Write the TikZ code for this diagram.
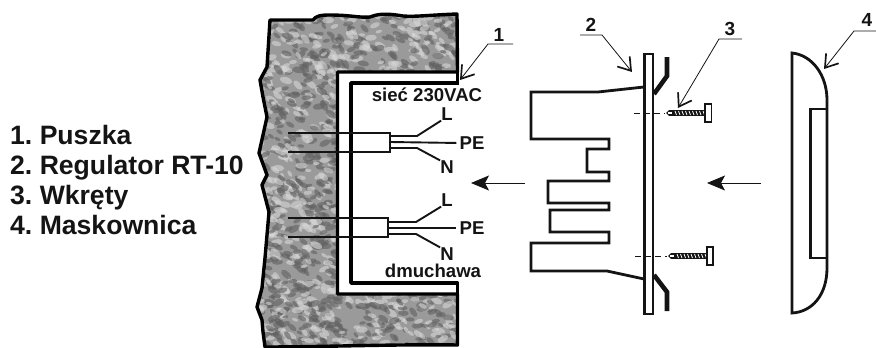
\documentclass[tikz,border=0pt]{standalone}
\usepackage{fontspec}
\setmainfont{Liberation Sans}
\usepackage{xcolor}
\definecolor{inkDark}{HTML}{141414}
\definecolor{wallBase}{HTML}{9A9A9A}
\definecolor{wallDark}{HTML}{606060}
\definecolor{wallLight}{HTML}{D6D6D6}
\usetikzlibrary{arrows.meta,calc}
\tikzset{
  wallLine/.style={
    line width=3.4pt,
    draw=black,
    line join=round
 },
  partLine/.style={
    line width=2.8pt,
    draw=inkDark,
    line join=miter
 },
  flangeLine/.style={
    line width=4.6pt,
    draw=inkDark
 },
  cableLine/.style={
    line width=1.9pt,
    draw=inkDark
 },
  leaderLine/.style={
    {Straight Barb[length=12pt,width=16pt,line width=1.7pt]}-,
    line width=0.8pt,
    draw=inkDark
 },
  moveArrow/.style={
    -{Stealth[length=18pt,width=15pt,inset=4pt]},
    line width=0.8pt,
    draw=inkDark
 },
  legendText/.style={
    font=\fontsize{26.6}{29.7}\selectfont\bfseries\frenchspacing,
    text=inkDark,
    align=left,
    anchor=west,
    inner sep=0pt
 },
  wireText/.style={
    font=\fontsize{18.6}{20}\selectfont\bfseries,
    text=inkDark,
    inner sep=0pt
 },
  numText/.style={
    font=\fontsize{19}{20}\selectfont\bfseries,
    text=inkDark,
    inner sep=0pt
 }
}
\newcommand{\wallPath}{(270,20) -- (313,20) .. controls (316,16) and (320,15) .. (330,15) .. controls (350,15) and (360,18) .. (370,17) .. controls (378,14) and (385,13) .. (403,16) .. controls (415,17) and (430,15) .. (457,14) -- (457.5,72) -- (337.5,72) -- (337.5,294) -- (457.5,294) -- (457.5,345) .. controls (400,344) and (320,347) .. (265,347) -- (263,332) -- (262,320) -- (257,307) -- (262,288) -- (265,258) -- (269,212) -- (262,185) -- (267,175) -- (259,153) -- (267,117) -- (263,97) -- (260,80) -- (267,67) -- cycle}
\newcommand{\drawScrew}[3]{
  \fill[inkDark] (#1,#2-2.8) -- (#3,#2-2.8) -- (#3,#2+2.8) -- (#1,#2+2.8) -- (#1-3,#2) -- cycle;
  \foreach \t in {6,9.5,...,36} {
    \draw[white,line width=0.8pt] ($(#1,#2-2)+(\t,0)$) -- ($(#1,#2+2)+(\t+1.5,0)$);
  }
  \fill[white] (#1-1.5,#2-1.2) rectangle (#1+3,#2+1.2);
}
\begin{document}
\begin{tikzpicture}[x=1pt,y=-1pt]
  \useasboundingbox (0,0) rectangle (876,348);

  \begin{scope}
    \clip \wallPath;
    \fill[wallBase] (250,0) rectangle (470,348);
    \pgfmathsetseed{4711}
    \foreach \i in {1,...,1900} {
      \pgfmathsetmacro{\px}{255+rnd*210}
      \pgfmathsetmacro{\py}{10+rnd*340}
      \pgfmathsetmacro{\ang}{-60+rnd*90}
      \pgfmathsetmacro{\rad}{3+rnd*3.5}
      \pgfmathtruncatemacro{\pick}{ifthenelse(rnd<0.55,0,1)}
      \ifnum\pick=0\def\blob{wallDark}\else\def\blob{wallLight}\fi
      \fill[\blob,opacity=0.6,rotate around={\ang:(\px,\py)}] (\px,\py) ellipse ({\rad pt} and {0.5*\rad pt});
    }
  \end{scope}
  \fill[white] (337.5,72) rectangle (480,294);
  \draw[wallLine] \wallPath;

  \draw[wallLine] (459,83) -- (351,83) -- (351,283) -- (457.5,283) -- (457.5,294);
  \draw[wallLine] (457.5,72) -- (457.5,83);

  \coordinate (cableTopA) at (288,133);
  \coordinate (cableTopB) at (390,133);
  \coordinate (cableTopC) at (390,152);
  \coordinate (cableTopD) at (288,152);
  \draw[cableLine] (cableTopA) -- (cableTopB) -- (cableTopC) -- (cableTopD);
  \node[wireText] (lineTop) at (447,114) {L};
  \node[wireText] (earthTop) at (472,143) {PE};
  \node[wireText] (neutralTop) at (447,167) {N};
  \draw[cableLine] (390,136) -- (417,136) -- (lineTop.south west);
  \draw[cableLine,shorten >=3pt] (390,142) -- (earthTop.west);
  \draw[cableLine] (390,148) -- (417,148) -- (neutralTop.north west);
  \node[wireText] (mainsLabel) at (427,95) {sieć 230VAC};

  \coordinate (cableLowA) at (288,218);
  \coordinate (cableLowB) at (388,218);
  \coordinate (cableLowC) at (388,237);
  \coordinate (cableLowD) at (288,237);
  \draw[cableLine] (cableLowA) -- (cableLowB) -- (cableLowC) -- (cableLowD);
  \node[wireText] (lineLow) at (447,200) {L};
  \node[wireText] (earthLow) at (472,228) {PE};
  \node[wireText] (neutralLow) at (447,254) {N};
  \draw[cableLine] (389,222) -- (416,222) -- (lineLow.south west);
  \draw[cableLine,shorten >=3pt] (389,228) -- (earthLow.west);
  \draw[cableLine] (389,234) -- (416,234) -- (neutralLow.north west);
  \node[wireText] (fanLabel) at (433,271) {dmuchawa};

  \draw[partLine] (644,87) -- (598,92) -- (531,92) -- (531,139) -- (609,139) -- (609,149) -- (587,149) -- (587,172) -- (609,172) -- (609,181) -- (548,181) -- (548,203) -- (609,203) -- (609,210) -- (550,210) -- (550,232) -- (609,232) -- (609,243) -- (531,243) -- (531,271) -- (607,271) -- (644,279);
  \draw[partLine] (644.5,54) rectangle (653,314);
  \draw[flangeLine] (667,57) -- (667,76) -- (654,94);
  \draw[flangeLine] (654,275) -- (667,292) -- (667,311);

  \draw[line width=0.8pt,draw=inkDark,dash pattern=on 6pt off 4pt] (634,113) -- (665,113);
  \draw[line width=0.8pt,draw=inkDark,dash pattern=on 6pt off 4pt] (635,256) -- (667,256);
  \drawScrew{669}{113}{705}
  \drawScrew{671}{256}{707}
  \draw[line width=1.2pt,draw=inkDark,fill=white] (705,104) rectangle (711.5,122);
  \draw[line width=1.2pt,draw=inkDark,fill=white] (707,247) rectangle (713,265);

  \draw[partLine] (792,53) .. controls (812,55) and (827,75) .. (827,100) -- (827,268) .. controls (827,295) and (812,312) .. (792,313) -- cycle;
  \draw[partLine] (827,109) -- (810.5,109) -- (810.5,258) -- (827,258);

  \coordinate (moveLeftA) at (525,183);
  \coordinate (moveLeftB) at (471,183);
  \coordinate (moveRightA) at (761,183);
  \coordinate (moveRightB) at (707,183);
  \draw[moveArrow] (moveLeftA) -- (moveLeftB);
  \draw[moveArrow] (moveRightA) -- (moveRightB);

  \node[numText] (numBox) at (499,35) {1};
  \node[numText] (numRegulator) at (591,25) {2};
  \node[numText] (numScrew) at (730,29) {3};
  \node[numText] (numCover) at (867,20) {4};
  \coordinate (tipBox) at (460,80);
  \coordinate (tipRegulator) at (632,72);
  \coordinate (tipScrew) at (678,108);
  \coordinate (tipCover) at (824,69);
  \draw[leaderLine] (tipBox) -- (488,44) -- (513,44);
  \draw[leaderLine] (tipRegulator) -- (602,35) -- (580,35);
  \draw[leaderLine] (tipScrew) -- (719,39) -- (742,39);
  \draw[leaderLine] (tipCover) -- (854,31) -- (876,31);

  \node[legendText] (legend) at (10,180) {1. Puszka\\2. Regulator RT-10\\3. Wkręty\\4. Maskownica};
\end{tikzpicture}
\end{document}
